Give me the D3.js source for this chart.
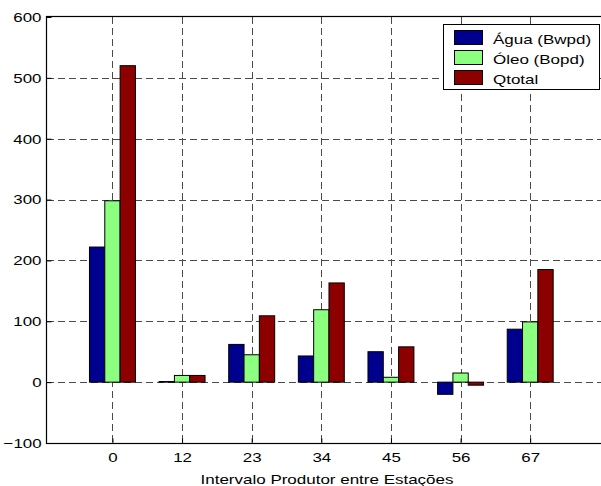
<!DOCTYPE html>
<html>
<head>
<meta charset="utf-8">
<script src="https://cdn.jsdelivr.net/npm/d3@7"></script>
<style>
  html, body { margin: 0; padding: 0; background: #fff; }
  svg { display: block; }
  text { font-family: "Liberation Sans", Arial, Helvetica, sans-serif; fill: #000; }
</style>
</head>
<body>
<svg id="chart" width="601" height="486"></svg>
<script>
// Flow rate between production stations
const categories = ["0", "12", "23", "34", "45", "56", "67"];
const seriesNames = ["Água (Bwpd)", "Óleo (Bopd)", "Qtotal"];
const agua   = [222, 1, 62, 43, 50, -20, 87];
const oleo   = [298, 11, 45, 119, 8, 15, 99];
const qtotal = [520, 11, 109, 163, 58, -5, 185];
const yTicks = [-100, 0, 100, 200, 300, 400, 500, 600];
const colors = ["#00008F", "#8CFF80", "#8C0000"];
const xTitle = "Intervalo Produtor entre Estações";

const series = [agua, oleo, qtotal];
const stretch = 1.25;   // horizontally widened lettering

const svg = d3.select("#chart");
const plotL = 47, plotR = 604, plotT = 17, plotB = 443;

const x = d3.scaleLinear().domain([-0.94, 7.06]).range([plotL, plotR]);
const y = d3.scaleLinear().domain([-100, 600]).range([plotB, plotT]);
const barW = 0.22; // in category units

// grid
const grid = svg.append("g")
  .attr("stroke", "#4a4a4a").attr("stroke-width", 1)
  .attr("stroke-dasharray", "7,4").attr("fill", "none");
yTicks.filter(t => t > -100 && t < 600).forEach(t => {
  grid.append("line")
    .attr("x1", plotL).attr("x2", plotR)
    .attr("y1", Math.round(y(t)) + 0.5).attr("y2", Math.round(y(t)) + 0.5);
});
categories.forEach((c, i) => {
  grid.append("line")
    .attr("x1", Math.round(x(i)) + 0.5).attr("x2", Math.round(x(i)) + 0.5)
    .attr("y1", plotT).attr("y2", plotB);
});

// bars
series.forEach((vals, s) => {
  svg.append("g").selectAll("rect")
    .data(vals)
    .join("rect")
    .attr("x", (d, i) => x(i + (s - 1.5) * barW))
    .attr("width", x(barW) - x(0))
    .attr("y", d => y(Math.max(0, d)))
    .attr("height", d => Math.abs(y(d) - y(0)))
    .attr("fill", colors[s])
    .attr("stroke", "#000").attr("stroke-width", 1);
});

// frame
svg.append("rect")
  .attr("x", plotL - 0.5).attr("y", plotT - 0.5)
  .attr("width", plotR - plotL).attr("height", plotB - plotT + 1)
  .attr("fill", "none").attr("stroke", "#000").attr("stroke-width", 1.2);

// y axis
const yAxis = svg.append("g")
  .attr("transform", `translate(${plotL - 0.5},0)`)
  .call(d3.axisLeft(y).tickValues(yTicks).tickSize(-5).tickPadding(5).tickFormat(d3.format("d")));
yAxis.select(".domain").remove();
yAxis.selectAll("line").attr("stroke", "#000");
yAxis.selectAll("text")
  .attr("font-size", 13.5)
  .attr("x", -5 / stretch)
  .attr("transform", `scale(${stretch},1)`)
  .attr("font-family", "Liberation Sans, Arial, sans-serif");

// x axis
const xAxis = svg.append("g")
  .attr("transform", `translate(0,${plotB + 0.5})`)
  .call(d3.axisBottom(x).tickValues(d3.range(categories.length))
    .tickSize(-5).tickPadding(9).tickFormat(i => categories[i]));
xAxis.select(".domain").remove();
xAxis.selectAll("line").attr("stroke", "#000");
xAxis.selectAll("text")
  .attr("font-size", 13.5)
  .attr("transform", `scale(${stretch},1)`)
  .attr("font-family", "Liberation Sans, Arial, sans-serif");

// x title
svg.append("text")
  .attr("transform", `translate(327,484) scale(${stretch},1)`)
  .attr("text-anchor", "middle")
  .attr("font-size", 13.6)
  .text(xTitle);

// legend
const lg = svg.append("g");
lg.append("rect")
  .attr("x", 443.5).attr("y", 24.5).attr("width", 156).attr("height", 65)
  .attr("fill", "#fff").attr("stroke", "#000").attr("stroke-width", 1);
seriesNames.forEach((name, s) => {
  const ry = 30 + s * 20;
  lg.append("rect")
    .attr("x", 454.5).attr("y", ry + 0.5).attr("width", 28).attr("height", 14)
    .attr("fill", colors[s]).attr("stroke", "#000").attr("stroke-width", 1);
  lg.append("text")
    .attr("transform", `translate(493,${ry + 13.5}) scale(${stretch},1)`)
    .attr("font-size", 13.6)
    .text(name);
});
</script>
</body>
</html>
